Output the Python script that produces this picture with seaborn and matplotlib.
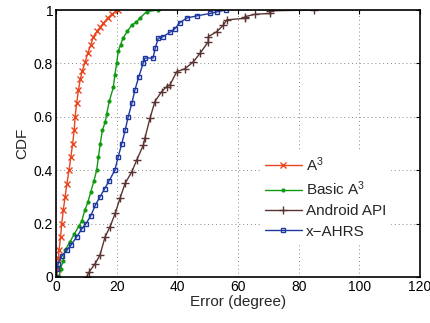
import matplotlib
matplotlib.use("Agg")
import matplotlib.pyplot as plt
import seaborn as sns
import pandas as pd

# ---- data (error in degrees, CDF) ----
a3_err = [0.3, 0.5, 0.8, 1.0, 1.5, 1.9, 2.4, 3.0, 3.6, 4.3, 4.9, 5.5, 6.0, 6.3,
          6.8, 7.4, 8.0, 8.6, 9.6, 10.5, 11.5, 12.3, 13.5, 14.6, 15.6, 17.0, 18.5, 20.4]
a3_cdf = [0.0, 0.03, 0.07, 0.10, 0.15, 0.20, 0.25, 0.30, 0.35, 0.40, 0.45, 0.50, 0.55, 0.60,
          0.65, 0.70, 0.74, 0.77, 0.805, 0.84, 0.87, 0.90, 0.92, 0.935, 0.95, 0.97, 0.985, 1.0]

basic_err = [1.0, 1.5, 2.3, 3.0, 4.5, 6.0, 7.5, 8.5, 9.5, 10.5, 11.5, 12.5, 13.4, 14.0,
             14.6, 15.3, 16.2, 16.7, 17.6, 18.9, 19.4, 20.0, 20.5, 21.3, 22.1, 23.5, 25.0,
             26.5, 27.7, 29.9, 33.7]
basic_cdf = [0.0, 0.03, 0.06, 0.10, 0.13, 0.16, 0.19, 0.21, 0.25, 0.28, 0.32, 0.36, 0.40, 0.45,
             0.50, 0.55, 0.58, 0.61, 0.66, 0.71, 0.757, 0.80, 0.845, 0.87, 0.895, 0.92, 0.944,
             0.955, 0.97, 0.994, 1.0]

android_err = [10.1, 11.0, 12.9, 14.5, 16.2, 17.8, 19.5, 21.1, 22.8, 25.0, 26.6, 28.8, 29.3,
               31.0, 32.6, 34.8, 36.5, 37.6, 39.8, 42.5, 45.3, 47.5, 50.2, 50.2, 53.0, 55.2,
               56.3, 62.3, 62.3, 65.6, 70.5, 70.5, 85.0]
android_cdf = [0.0, 0.02, 0.05, 0.082, 0.151, 0.188, 0.238, 0.295, 0.351, 0.394, 0.438, 0.494, 0.52,
               0.595, 0.657, 0.694, 0.713, 0.72, 0.769, 0.78, 0.806, 0.838, 0.881, 0.90, 0.919, 0.944,
               0.963, 0.969, 0.975, 0.984, 0.987, 0.997, 1.0]

xahrs_err = [0.0, 0.2, 0.7, 2.0, 3.5, 5.0, 6.8, 8.5, 9.9, 11.5, 13.0, 14.5, 16.0, 17.5, 19.4,
             20.5, 21.7, 22.8, 23.8, 25.0, 26.0, 27.3, 28.7, 29.3, 32.0, 32.7, 33.7, 35.3, 37.6,
             39.2, 40.9, 43.1, 46.4, 50.8, 53.0, 56.0]
xahrs_cdf = [0.0, 0.03, 0.05, 0.08, 0.10, 0.12, 0.15, 0.18, 0.20, 0.23, 0.27, 0.30, 0.33, 0.36, 0.40,
             0.45, 0.50, 0.55, 0.60, 0.65, 0.70, 0.75, 0.80, 0.82, 0.82, 0.857, 0.894, 0.90, 0.917,
             0.93, 0.953, 0.97, 0.978, 0.987, 0.993, 1.0]

labels = ["A$^{3}$", "Basic A$^{3}$", "Android API", "x\u2212AHRS"]
xticks = [0, 20, 40, 60, 80, 100, 120]
yticks = [0, 0.2, 0.4, 0.6, 0.8, 1]
ytick_labels = ["0", "0.2", "0.4", "0.6", "0.8", "1"]

sns.set_style("white")
plt.rcParams["font.family"] = ["Liberation Sans", "DejaVu Sans"]
plt.rcParams["mathtext.fontset"] = "custom"
plt.rcParams["mathtext.rm"] = "Liberation Sans"
plt.rcParams["mathtext.it"] = "Liberation Sans"
plt.rcParams["mathtext.default"] = "regular"

fig = plt.figure(figsize=(4.31, 3.23), dpi=100)
ax = fig.add_axes([56 / 431, 1 - 277 / 323, 364 / 431, 267 / 323])

series = [
    (a3_err, a3_cdf, labels[0], "#E8441E", "x", 4, 1.0, "#E8441E"),
    (basic_err, basic_cdf, labels[1], "#109A10", ".", 4, 1.0, "#109A10"),
    (android_err, android_cdf, labels[2], "#5A3432", "+", 6, 1.0, "#5A3432"),
    (xahrs_err, xahrs_cdf, labels[3], "#1E38A0", "s", 3.5, 1.0, "none"),
]
for err, cdf, lab, col, mk, ms, mew, mfc in series:
    df = pd.DataFrame({"err": err, "cdf": cdf})
    sns.lineplot(data=df, x="err", y="cdf", ax=ax, color=col, marker=mk,
                 markersize=ms, markeredgewidth=mew, markeredgecolor=col,
                 markerfacecolor=(col if mfc != "none" else "none"),
                 linewidth=1.0, estimator=None, sort=False, label=lab)

ax.set_xlim(0, 120)
ax.set_ylim(0, 1)
ax.set_xticks(xticks)
ax.set_yticks(yticks)
ax.set_yticklabels(ytick_labels)
ax.tick_params(direction="in", length=3, width=0.8, top=True, right=True,
               labelsize=10, pad=2, colors="black")
ax.grid(True, linestyle=(0, (1, 3)), color="#888888", linewidth=0.7)
for s in ax.spines.values():
    s.set_visible(True)
    s.set_color("black")
    s.set_linewidth(1.2)
ax.set_xlabel("Error (degree)", fontsize=11, labelpad=1)
ax.set_ylabel("CDF", fontsize=11, labelpad=3)

leg = ax.legend(loc="upper left", bbox_to_anchor=(262 / 431, 1 - 152 / 323),
                bbox_transform=fig.transFigure, frameon=True, fontsize=11,
                handlelength=2.4, handletextpad=0.3, labelspacing=0.4,
                borderpad=0.2, borderaxespad=0)
leg.get_frame().set_edgecolor("white")
leg.get_frame().set_facecolor("white")
leg.get_frame().set_alpha(1)
leg.get_frame().set_boxstyle("square", pad=0)

fig.savefig("out.png", dpi=100)
